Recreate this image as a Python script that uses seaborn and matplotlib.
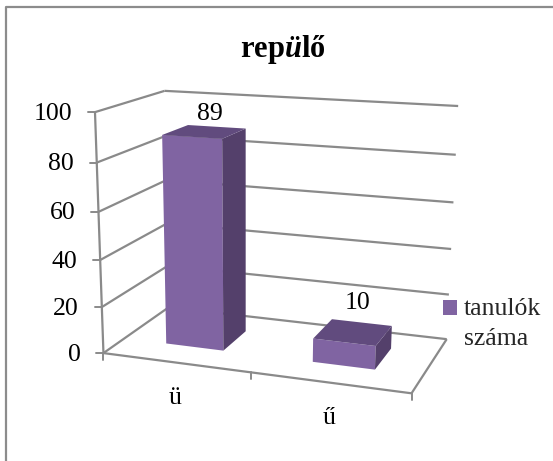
import numpy as np
import matplotlib
matplotlib.use("Agg")
import matplotlib.pyplot as plt
from matplotlib.patches import Patch, Polygon
import seaborn as sns

# ---- data ----
categories = ["ü", "ű"]
values = [89, 10]
series_name = "tanulók\nszáma"
y_ticks = [0, 20, 40, 60, 80, 100]
title_text = r"$\mathbf{rep}\mathbfit{ü}\mathbf{lő}$"

sns.set_theme(style="white")
plt.rcParams["font.family"] = ["Liberation Serif", "DejaVu Serif"]
plt.rcParams["mathtext.fontset"] = "custom"
plt.rcParams["mathtext.bf"] = "Liberation Serif:bold"
plt.rcParams["mathtext.bfit"] = "Liberation Serif:italic:bold"
plt.rcParams["mathtext.rm"] = "Liberation Serif"
plt.rcParams["mathtext.it"] = "Liberation Serif:italic"

front_c = sns.color_palette(["#8064A2"]).as_hex()[0]
top_c = "#614B7E"
side_c = "#54406B"
grid_c = "#8A8A8A"

# 3D view of the chart box: x (0..1), depth (0 front..1 back), value (0..100),
# calibrated to pixel positions of the box corners.
calib = [
    ((0, 0, 0), (104, 353)), ((1, 0, 0), (411, 394)), ((.5, 0, 0), (251, 373)),
    ((0, 1, 0), (168, 308)), ((1, 1, 0), (447, 338)), ((0, 0, 100), (94.5, 112)),
    ((0, 1, 100), (165, 91)), ((1, 1, 100), (458, 106)), ((0, 0, 20), (102, 306)),
    ((1, 1, 80), (456, 155)),
]
A, b = [], []
for (x, z, v), (u, w) in calib:
    v = v / 100
    A.append([x, z, v, 1, 0, 0, 0, 0, -u * x, -u * z, -u * v]); b.append(u)
    A.append([0, 0, 0, 0, x, z, v, 1, -w * x, -w * z, -w * v]); b.append(w)
p = np.linalg.lstsq(np.array(A, float), np.array(b, float), rcond=None)[0]
P = np.append(p, 1.0).reshape(3, 4)


def proj(x, z, v):
    h = P @ np.array([x, z, v / 100, 1.0])
    return h[0] / h[2], h[1] / h[2]


fig = plt.figure(figsize=(5.53, 4.61), dpi=100, facecolor="white")
ax = fig.add_axes([0, 0, 1, 1])
ax.set_xlim(0, 553)
ax.set_ylim(461, 0)
ax.axis("off")

# chart frame: only its top and left edges fall inside the picture
ax.plot([6, 6, 553], [461, 7, 7], color="#8C8C8C", lw=1.6, zorder=1)


def seg(a, b):
    (x0, y0), (x1, y1) = proj(*a), proj(*b)
    ax.plot([x0, x1], [y0, y1], color=grid_c, lw=1.6, solid_capstyle="butt", zorder=2)


for t in y_ticks:
    seg((0, 0, t), (0, 1, t))
    seg((0, 1, t), (1, 1, t))
    x0, y0 = proj(0, 0, t)
    ax.plot([x0 - 7, x0], [y0, y0], color=grid_c, lw=1.4, zorder=2)
    ax.text(x0 - 23, y0 + 1.5, str(t), ha="right", va="center", fontsize=18.5, color="black")

seg((0, 0, 0), (0, 0, 100))
seg((0, 0, 0), (1, 0, 0))
seg((1, 0, 0), (1, 1, 0))
for f in (0, .5, 1):
    x0, y0 = proj(f, 0, 0)
    ax.plot([x0, x0], [y0, y0 + 7], color=grid_c, lw=1.4, zorder=2)

# bars
centres = [.25, .75]
half_w = .10
z0, z1 = .30, .70
label_shift = [(5, -18), (4, -29)]
for i, (cat, val) in enumerate(zip(categories, values)):
    l, r = centres[i] - half_w, centres[i] + half_w
    front = [proj(l, z0, 0), proj(r, z0, 0), proj(r, z0, val), proj(l, z0, val)]
    side = [proj(r, z0, 0), proj(r, z1, 0), proj(r, z1, val), proj(r, z0, val)]
    top = [proj(l, z0, val), proj(r, z0, val), proj(r, z1, val), proj(l, z1, val)]
    ax.add_patch(Polygon(front, fc=front_c, ec="none", zorder=3))
    ax.add_patch(Polygon(side, fc=side_c, ec="none", zorder=3))
    ax.add_patch(Polygon(top, fc=top_c, ec="none", zorder=3))
    cx, cy = proj(centres[i], .5, val)
    ax.text(cx + label_shift[i][0], cy + label_shift[i][1], str(val), ha="center", va="center",
            fontsize=18.5, color="black")
    fx, fy = proj(centres[i], 0, 0)
    ax.text(fx, fy + 35.5, cat, ha="center", va="center", fontsize=18.5, color="black")

ax.text(283, 49, title_text, ha="center", va="center", fontsize=22, color="black")

leg = ax.legend(
    handles=[Patch(fc=front_c, ec="none", label=series_name)],
    loc="upper left", bbox_to_anchor=(443 / 553, 1 - 298 / 461),
    frameon=False, fontsize=18.5, handlelength=0.55, handleheight=0.55,
    handletextpad=0.25, borderpad=0, borderaxespad=0, labelspacing=0,
)
leg.get_texts()[0].set_linespacing(1.45)
# the swatch sits beside the first line of the two-line label
swatch = leg.get_patches()[0]
swatch.set_y(swatch.get_y() + 11.5)

fig.savefig("out.png", dpi=100, facecolor="white")
